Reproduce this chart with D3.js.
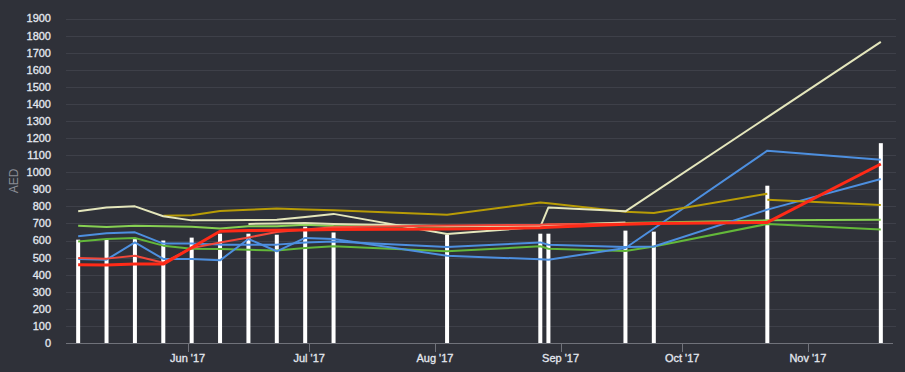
<!DOCTYPE html>
<html><head><meta charset="utf-8">
<script src="https://cdn.jsdelivr.net/npm/d3@7"></script>
<style>html,body{margin:0;padding:0;background:#2f3139;} svg{display:block}</style>
</head><body><svg id="c" width="905" height="372"></svg>
<script>
// ---- data ----
const dates = ["2017-05-05","2017-05-12","2017-05-19","2017-05-26","2017-06-02","2017-06-09","2017-06-16","2017-06-23","2017-06-30","2017-07-07","2017-08-04","2017-08-27","2017-08-29","2017-09-17","2017-09-24","2017-10-22","2017-11-19"];
const barValues = [605,607,612,600,617,640,640,634,681,647,634,640,640,658,652,921,1170];
const cream1 = [771,794,800,742,718,718,720,722,738,756,638,680,794,771,null,null,1763];
const cream2 = [null,null,null,null,null,null,697,700,702,697,685,685,690,706,null,null,null];
const gold1  = [null,null,null,745,748,773,780,787,782,778,751,823,818,768,761,874,null];
const gold2  = [null,null,null,null,null,null,null,null,null,null,null,null,null,null,null,839,808];
const greenA = [687,679,687,683,680,670,683,683,693,685,680,690,692,703,705,718,722];
const greenB = [595,609,615,570,552,550,546,542,556,566,537,566,552,539,565,697,664];
const blueA  = [625,642,648,582,582,576,576,576,589,595,562,589,575,562,565,781,960];
const blueB  = [492,488,589,492,492,484,609,537,615,609,511,490,488,556,null,1126,1073];
const red2   = [497,494,511,470,556,589,618,650,664,678,688,693,695,698,702,null,null];
const red1   = [458,456,462,462,null,654,658,660,662,664,667,675,678,695,700,706,1048];
const yTicks = d3.range(0, 2000, 100);
const xTickLabels = ["Jun '17","Jul '17","Aug '17","Sep '17","Oct '17","Nov '17"];
const xTickDates = ["2017-06-01","2017-07-01","2017-08-01","2017-09-01","2017-10-01","2017-11-01"];
const yTitle = "AED";

const series = [
  {v: greenB, c: "#63b83a", w: 2},
  {v: greenA, c: "#86cf52", w: 2},
  {v: blueA,  c: "#4d8fdf", w: 2},
  {v: blueB,  c: "#4d8fdf", w: 2},
  {v: gold1,  c: "#b89c06", w: 2},
  {v: gold2,  c: "#b89c06", w: 2},
  {v: cream2, c: "#dfe2b8", w: 2},
  {v: cream1, c: "#e4e6bc", w: 2},
  {v: red2,   c: "#f2473a", w: 2},
  {v: red1,   c: "#ff2a17", w: 3}
];

// ---- chart ----
const parse = d3.timeParse("%Y-%m-%d");
const dts = dates.map(parse);
const svg = d3.select("#c");
const x = d3.scaleTime().domain([new Date(2017,4,2), new Date(2017,10,22)]).range([66, 893]);
const y = d3.scaleLinear().domain([0, 1900]).range([343, 18.5]);
const font = "Liberation Sans, Arial, sans-serif";

svg.append("rect").attr("width",905).attr("height",372).attr("fill","#2f3139");

// grid
svg.append("g").selectAll("line").data(yTicks.filter(d=>d>0)).join("line")
  .attr("x1",66).attr("x2",896)
  .attr("y1",d=>Math.round(y(d))+0.5).attr("y2",d=>Math.round(y(d))+0.5)
  .attr("stroke","#3e4049").attr("stroke-width",1);

// y labels
svg.append("g").selectAll("text").data(yTicks).join("text")
  .attr("x",51).attr("y",d=>y(d)).attr("dy","0.36em")
  .attr("text-anchor","end")
  .attr("font-family",font).attr("font-size",11)
  .attr("fill","#e4e8f0").attr("stroke","#e4e8f0").attr("stroke-width",0.3)
  .text(d=>d);

svg.append("text")
  .attr("transform","translate(18,181) rotate(-90)")
  .attr("text-anchor","middle")
  .attr("font-family",font).attr("font-size",12)
  .attr("fill","#8a8d95").text(yTitle);

// bars
svg.append("g").selectAll("rect").data(barValues).join("rect")
  .attr("x",(d,i)=>x(dts[i])-2).attr("width",4)
  .attr("y",d=>y(d)).attr("height",d=>y(0)-y(d))
  .attr("fill","#ffffff");

// axis
svg.append("line").attr("x1",66).attr("x2",893).attr("y1",343.5).attr("y2",343.5)
  .attr("stroke","#70727a").attr("stroke-width",1);
const xt = xTickDates.map(parse);
svg.append("g").selectAll("line").data(xt).join("line")
  .attr("x1",d=>Math.round(x(d))+0.5).attr("x2",d=>Math.round(x(d))+0.5)
  .attr("y1",343).attr("y2",352).attr("stroke","#70727a");
svg.append("g").selectAll("text").data(xt).join("text")
  .attr("x",d=>x(d)).attr("y",362).attr("text-anchor","middle")
  .attr("font-family",font).attr("font-size",11)
  .attr("fill","#e4e8f0").attr("stroke","#e4e8f0").attr("stroke-width",0.3)
  .text((d,i)=>xTickLabels[i]);

// lines
const line = d3.line().defined(d=>d.v!=null).x(d=>x(d.d)).y(d=>y(d.v));
series.forEach(s=>{
  const pts = dts.map((d,i)=>({d, v:s.v[i]})).filter(p=>p.v!=null);
  svg.append("path").datum(pts).attr("d",line)
    .attr("fill","none").attr("stroke",s.c).attr("stroke-width",s.w)
    .attr("stroke-linejoin","round");
});
</script></body></html>
